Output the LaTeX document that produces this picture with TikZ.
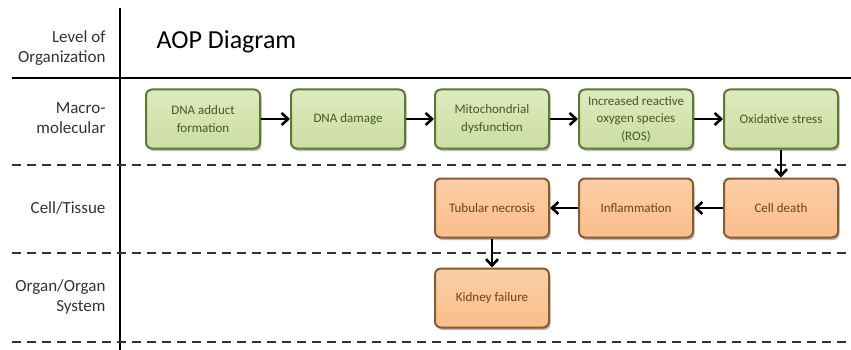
\documentclass[tikz,border=0pt]{standalone}
\usepackage{fontspec}
\setmainfont{Carlito}
\usetikzlibrary{arrows.meta,shadows}

\definecolor{grnfill}{HTML}{CCDDA4}
\definecolor{grntop}{HTML}{DDEAC0}
\definecolor{grnedge}{HTML}{5F7A30}
\definecolor{grntext}{HTML}{455A20}
\definecolor{orgfill}{HTML}{F9BE8A}
\definecolor{orgtop}{HTML}{FBCFA6}
\definecolor{orgedge}{HTML}{8A5A30}
\definecolor{orgtext}{HTML}{6E4018}
\definecolor{lbltext}{HTML}{333333}

\tikzset{
  x=1pt, y=-1pt,
  kebox/.style={rounded corners=6pt, line width=2pt, minimum width=114pt,
    minimum height=59pt, align=center, inner sep=1pt,
    font=\fontsize{13}{17.5}\selectfont,
    drop shadow={shadow xshift=1.5pt, shadow yshift=-2.5pt, opacity=.55}},
  mie/.style={kebox, draw=grnedge, top color=grntop, bottom color=grnfill, text=grntext},
  ke/.style={kebox, draw=orgedge, top color=orgtop, bottom color=orgfill, text=orgtext},
  flow/.style={line width=2.6pt, -{Straight Barb[length=6.5pt,width=12pt,line width=2.6pt]}},
  lvl/.style={anchor=east, align=right, text=lbltext, font=\fontsize{17}{20.5}\selectfont},
  sep/.style={line width=2.4pt, dash pattern=on 9pt off 6pt, draw=black!80},
}

\begin{document}
\begin{tikzpicture}
\useasboundingbox (0,0) rectangle (851,350);

% grid of levels
\draw[line width=2.4pt] (120,8) -- (120,350);
\draw[line width=2.4pt] (12,78) -- (851,78);
\draw[sep] (12,165) -- (851,165);
\draw[sep] (12,253) -- (851,253);
\draw[sep] (12,342) -- (851,342);

% level labels
\node[lvl] (l0) at (109,48) {Level of\\Organization};
\node[lvl] (l1) at (109,118) {Macro-\\molecular};
\node[lvl] (l2) at (109,208) {Cell/Tissue};
\node[lvl] (l3) at (109,297) {Organ/Organ\\System};

\node[anchor=west, font=\fontsize{26}{30}\selectfont] (title) at (153,42) {AOP Diagram};

% molecular initiating events and key events
\node[mie] (n1) at (203,119) {DNA adduct\\formation};
\node[mie] (n2) at (348,119) {DNA damage};
\node[mie] (n3) at (492,119) {Mitochondrial\\dysfunction};
\node[mie] (n4) at (636,119) {Increased reactive\\oxygen species\\(ROS)};
\node[mie] (n5) at (781,119) {Oxidative stress};

\node[ke] (c1) at (781,208) {Cell death};
\node[ke] (c2) at (636,208) {Inflammation};
\node[ke] (c3) at (492,208) {Tubular necrosis};
\node[ke] (o1) at (492,298) {Kidney failure};

% connectors
\draw[flow] (n1) -- (n2);
\draw[flow] (n2) -- (n3);
\draw[flow] (n3) -- (n4);
\draw[flow] (n4) -- (n5);
\draw[flow] (n5) -- (c1);
\draw[flow] (c1) -- (c2);
\draw[flow] (c2) -- (c3);
\draw[flow] (c3) -- (o1);
\end{tikzpicture}
\end{document}
